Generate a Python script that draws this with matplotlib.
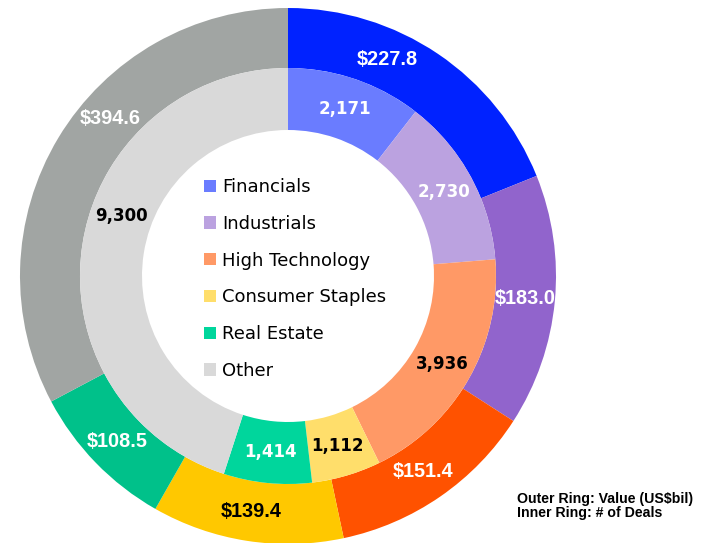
import matplotlib
matplotlib.use('Agg')
import matplotlib.pyplot as plt
import numpy as np

# sectors, clockwise from 12 o'clock
sectors = ['Financials', 'Industrials', 'High Technology', 'Consumer Staples',
           'Real Estate', 'Other']
value_bil = [227.8, 183.0, 151.4, 139.4, 108.5, 394.6]   # outer ring
num_deals = [2171, 2730, 3936, 1112, 1414, 9300]          # inner ring

outer_labels = ['$227.8', '$183.0', '$151.4', '$139.4', '$108.5', '$394.6']
inner_labels = ['2,171', '2,730', '3,936', '1,112', '1,414', '9,300']

outer_colors = ['#0022ff', '#9164cc', '#ff5200', '#ffc800', '#00c18a', '#a1a5a3']
inner_colors = ['#6a7cff', '#bba2e0', '#ff9966', '#ffde6b', '#00d69c', '#d9d9d9']
outer_text_colors = ['white', 'white', 'white', 'black', 'white', 'white']
inner_text_colors = ['white', 'white', 'black', 'black', 'white', 'black']
# small angle nudges (degrees) for a few labels
outer_nudge = [9.4, 0, 0, 0, 0, -10.5]
inner_nudge = [0, 0, 0, 0, 0, -11]

W, H = 715, 543
cx, cy = 288, H - 276
r_out, r_mid, r_in = 268, 208, 146

fig = plt.figure(figsize=(W / 100, H / 100), dpi=100)
ax = fig.add_axes([0, 0, 1, 1])

wo, _ = ax.pie(value_bil, colors=outer_colors, startangle=90, counterclock=False,
               radius=r_out, center=(cx, cy),
               wedgeprops=dict(width=r_out - r_mid, linewidth=0))
wi, _ = ax.pie(num_deals, colors=inner_colors, startangle=90, counterclock=False,
               radius=r_mid, center=(cx, cy),
               wedgeprops=dict(width=r_mid - r_in, linewidth=0))
ax.set_xlim(0, W)
ax.set_ylim(0, H)
ax.set_aspect('equal')
ax.axis('off')


def mid_angles(vals, nudge):
    vals = np.asarray(vals, dtype=float)
    cum = np.cumsum(vals) - vals / 2
    return 90 - 360 * cum / vals.sum() + np.asarray(nudge)


r_lab = (r_out + r_mid) / 2
for ang, lab, c in zip(mid_angles(value_bil, outer_nudge), outer_labels, outer_text_colors):
    t = np.deg2rad(ang)
    ax.text(cx + r_lab * np.cos(t), cy + r_lab * np.sin(t), lab, color=c,
            ha='center', va='center', fontsize=14.3, fontweight='bold',
            family='Liberation Sans')

r_lab = (r_mid + r_in) / 2
for ang, lab, c in zip(mid_angles(num_deals, inner_nudge), inner_labels, inner_text_colors):
    t = np.deg2rad(ang)
    ax.text(cx + r_lab * np.cos(t), cy + r_lab * np.sin(t), lab, color=c,
            ha='center', va='center', fontsize=12, fontweight='bold',
            family='DejaVu Sans')

fig.legend(wi, sectors, loc='upper left', bbox_to_anchor=(204 / W, 1 - 178 / H),
           frameon=False, borderpad=0, borderaxespad=0,
           handlelength=0.67, handleheight=0.67, handletextpad=0.33,
           labelspacing=1.04, prop={'family': 'DejaVu Sans', 'size': 13})

fig.text(517 / W, 1 - 499 / H, 'Outer Ring: Value (US$bil)', fontsize=10.2,
         fontweight='bold', family='Liberation Sans', va='center')
fig.text(517 / W, 1 - 513 / H, 'Inner Ring: # of Deals', fontsize=10.2,
         fontweight='bold', family='Liberation Sans', va='center')

fig.savefig('out.png', dpi=100)
